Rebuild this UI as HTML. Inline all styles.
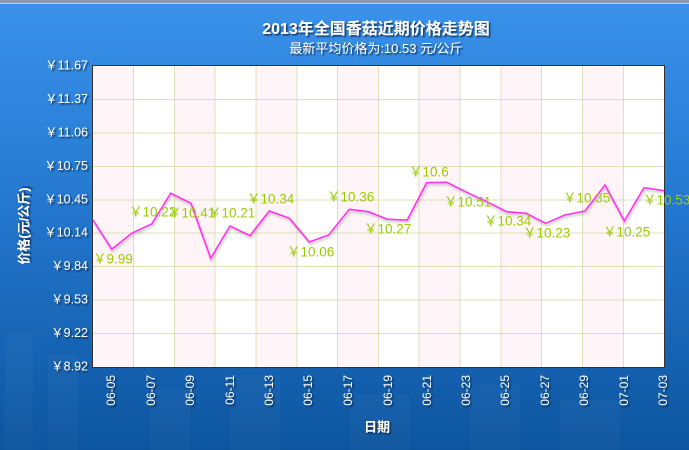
<!DOCTYPE html>
<html><head><meta charset="utf-8"><style>
html,body{margin:0;padding:0;width:689px;height:450px;overflow:hidden;background:#1a6cc0}
svg{display:block}
text{font-family:"Liberation Sans","Noto Sans CJK SC",sans-serif}
</style></head><body>
<svg width="689" height="450" viewBox="0 0 689 450" xmlns="http://www.w3.org/2000/svg">
<defs>
<linearGradient id="bg" x1="0" y1="0" x2="0" y2="1">
<stop offset="0" stop-color="#3b92ea"/>
<stop offset="0.45" stop-color="#2478d0"/>
<stop offset="1" stop-color="#0d559f"/>
</linearGradient>
<filter id="sh" x="-20%" y="-20%" width="140%" height="140%">
<feDropShadow dx="1.5" dy="1.5" stdDeviation="0.8" flood-color="#0a2a50" flood-opacity="0.9"/>
</filter>
<filter id="lsh"><feDropShadow dx="1" dy="2" stdDeviation="1" flood-color="#000" flood-opacity="0.25"/></filter>
</defs>
<rect x="0" y="0" width="689" height="450" fill="url(#bg)"/>
<rect x="0" y="0" width="689" height="3" fill="#8a9aae"/>
<rect x="0" y="3" width="689" height="1" fill="#b8d4f0"/>
<g fill="#ffffff" opacity="0.025">
<rect x="5" y="335" width="28" height="115"/>
<rect x="48" y="355" width="30" height="95"/>
<rect x="150" y="390" width="40" height="60"/>
<rect x="230" y="375" width="50" height="75"/>
<rect x="350" y="395" width="60" height="55"/>
<rect x="470" y="385" width="50" height="65"/>
<rect x="560" y="400" width="60" height="50"/>
</g>
<text x="376" y="34" text-anchor="middle" font-size="16" font-weight="bold" fill="#fff" filter="url(#sh)" font-family="'Liberation Serif','Noto Serif CJK SC',serif">2013年全国香菇近期价格走势图</text>
<text x="376" y="53" text-anchor="middle" font-size="13" fill="#fff" filter="url(#sh)">最新平均价格为:10.53 元/公斤</text>
<rect x="93" y="66" width="571" height="301" fill="#fff"/>
<g fill="#fff5f8">
<rect x="93" y="66" width="40" height="301"/>
<rect x="174" y="66" width="41" height="301"/>
<rect x="256" y="66" width="41" height="301"/>
<rect x="338" y="66" width="41" height="301"/>
<rect x="419" y="66" width="41" height="301"/>
<rect x="501" y="66" width="41" height="301"/>
<rect x="583" y="66" width="41" height="301"/>
</g>
<g stroke="#dcdfb8" stroke-width="1">
<line x1="93" x2="664" y1="99.5" y2="99.5"/><line x1="93" x2="664" y1="133" y2="133"/>
<line x1="93" x2="664" y1="166.5" y2="166.5"/><line x1="93" x2="664" y1="200" y2="200"/>
<line x1="93" x2="664" y1="233" y2="233"/><line x1="93" x2="664" y1="266.5" y2="266.5"/>
<line x1="93" x2="664" y1="300" y2="300"/><line x1="93" x2="664" y1="333.5" y2="333.5"/>
<line y1="66" y2="367" x1="133.5" x2="133.5"/><line y1="66" y2="367" x1="174.5" x2="174.5"/>
<line y1="66" y2="367" x1="215" x2="215"/><line y1="66" y2="367" x1="256" x2="256"/>
<line y1="66" y2="367" x1="297" x2="297"/><line y1="66" y2="367" x1="337.5" x2="337.5"/>
<line y1="66" y2="367" x1="378.5" x2="378.5"/><line y1="66" y2="367" x1="419" x2="419"/>
<line y1="66" y2="367" x1="460" x2="460"/><line y1="66" y2="367" x1="501" x2="501"/>
<line y1="66" y2="367" x1="541.5" x2="541.5"/><line y1="66" y2="367" x1="582.5" x2="582.5"/>
<line y1="66" y2="367" x1="623.5" x2="623.5"/>
</g>
<rect x="92.5" y="65.5" width="572" height="302" fill="none" stroke="#333" stroke-width="1"/>
<polyline fill="none" stroke="#ff33ee" stroke-width="1.6" filter="url(#lsh)" points="93,220 111.7,249.3 131.7,233.3 151.7,224 170.7,193.3 191,203.3 210.7,258.3 230,226 250,235.7 269.3,211 289.3,218.3 309.3,242 328.7,235 349.3,209.3 368.3,211.7 387.3,219.3 407.3,220 426.7,182.7 446.7,182.3 466.7,192.3 486.7,201.7 506.7,211.7 526,213.3 545.7,223.3 565,215 585,211 605,185 624.3,221 644,187.7 664,190.7"/>
<g font-size="13.5" fill="#99cc00" dominant-baseline="middle">
<text x="93" y="260">￥9.99</text>
<text x="129" y="213">￥10.22</text>
<text x="168" y="214">￥10.41</text>
<text x="208" y="214">￥10.21</text>
<text x="247" y="200">￥10.34</text>
<text x="287" y="253">￥10.06</text>
<text x="327" y="198">￥10.36</text>
<text x="364" y="230">￥10.27</text>
<text x="409" y="173">￥10.6</text>
<text x="444" y="203">￥10.51</text>
<text x="484" y="222">￥10.34</text>
<text x="523" y="234">￥10.23</text>
<text x="563" y="199">￥10.35</text>
<text x="603" y="233">￥10.25</text>
<text x="643" y="201">￥10.53</text>
</g>
<g font-size="12.5" fill="#fff" text-anchor="end" dominant-baseline="middle" filter="url(#sh)">
<text x="88" y="66">￥11.67</text><text x="88" y="99.5">￥11.37</text>
<text x="88" y="133">￥11.06</text><text x="88" y="166.5">￥10.75</text>
<text x="88" y="200">￥10.45</text><text x="88" y="233">￥10.14</text>
<text x="88" y="266.5">￥9.84</text><text x="88" y="300">￥9.53</text>
<text x="88" y="333.5">￥9.22</text><text x="88" y="367">￥8.92</text>
</g>
<text transform="translate(25,226) rotate(-90)" text-anchor="middle" dominant-baseline="middle" font-size="13" font-weight="bold" fill="#fff" filter="url(#sh)">价格(元/公斤)</text>
<g font-size="12" fill="#fff" text-anchor="end" dominant-baseline="middle" filter="url(#sh)">
<text transform="translate(112,375) rotate(-90)">06-05</text>
<text transform="translate(152,375) rotate(-90)">06-07</text>
<text transform="translate(191,375) rotate(-90)">06-09</text>
<text transform="translate(231,375) rotate(-90)">06-11</text>
<text transform="translate(270,375) rotate(-90)">06-13</text>
<text transform="translate(309,375) rotate(-90)">06-15</text>
<text transform="translate(349,375) rotate(-90)">06-17</text>
<text transform="translate(389,375) rotate(-90)">06-19</text>
<text transform="translate(428,375) rotate(-90)">06-21</text>
<text transform="translate(467,375) rotate(-90)">06-23</text>
<text transform="translate(506,375) rotate(-90)">06-25</text>
<text transform="translate(546,375) rotate(-90)">06-27</text>
<text transform="translate(585,375) rotate(-90)">06-29</text>
<text transform="translate(625,375) rotate(-90)">07-01</text>
<text transform="translate(664,375) rotate(-90)">07-03</text>
</g>
<text x="377" y="428" text-anchor="middle" dominant-baseline="middle" font-size="13" font-weight="bold" fill="#fff" filter="url(#sh)">日期</text>
</svg>
</body></html>
